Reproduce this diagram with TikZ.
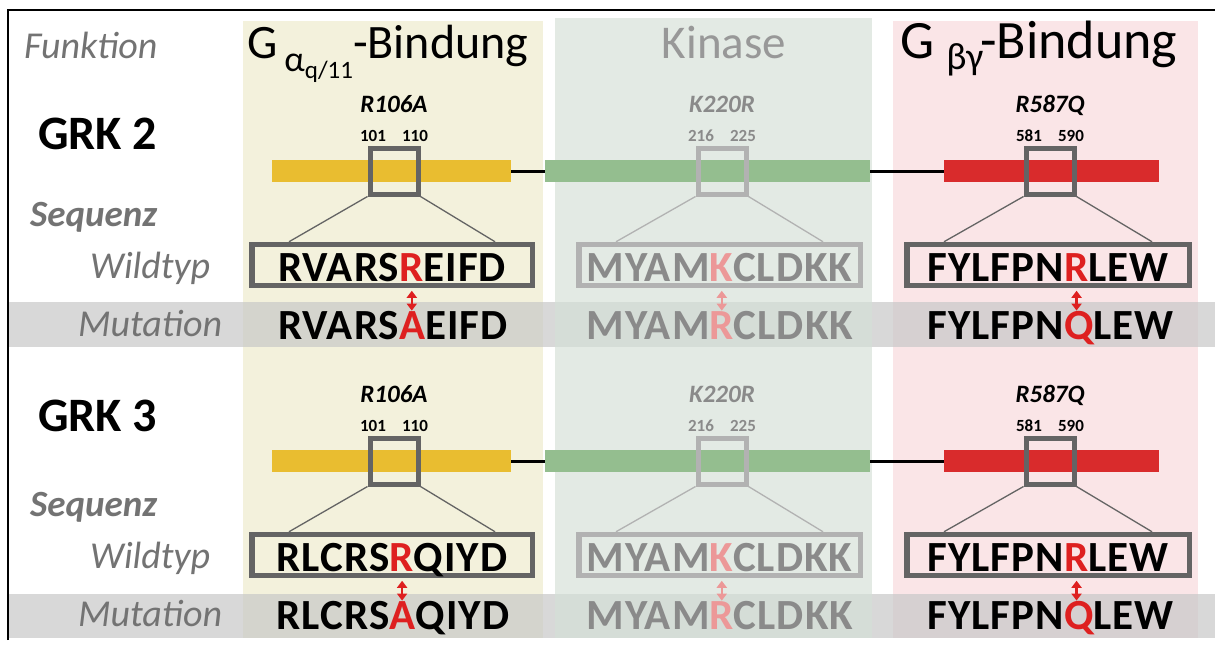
\documentclass[tikz,border=0pt]{standalone}
\usepackage{fontspec}
\setmainfont{Carlito}
\usetikzlibrary{arrows.meta,calc}
\definecolor{ypanel}{RGB}{243,241,220}
\definecolor{ppanel}{RGB}{250,229,231}
\definecolor{gpanel}{RGB}{212,224,215}
\definecolor{bandgray}{RGB}{200,200,200}
\definecolor{ybar}{RGB}{233,189,48}
\definecolor{gbar}{RGB}{148,190,143}
\definecolor{rbar}{RGB}{217,43,44}
\definecolor{labgray}{RGB}{115,115,115}
\definecolor{hired}{RGB}{222,32,32}
\definecolor{hipink}{RGB}{236,152,152}
\definecolor{boxdark}{RGB}{100,100,100}
\definecolor{boxlight}{RGB}{178,178,178}
\definecolor{fadetext}{RGB}{138,138,138}
\definecolor{fadehead}{RGB}{152,152,152}
\colorlet{fg}{black}
\colorlet{hl}{hired}
\colorlet{bx}{boxdark}

\tikzset{
  seq/.style={inner sep=0pt, text=fg, font=\fontsize{43}{43}\selectfont\bfseries\addfontfeature{LetterSpace=2.5}},
  lab/.style={inner sep=0pt, anchor=base west, text=labgray, font=\fontsize{38}{38}\selectfont\itshape},
  sqlab/.style={inner sep=0pt, anchor=base west, text=labgray, font=\fontsize{37}{37}\selectfont\bfseries\itshape},
  grk/.style={inner sep=0pt, anchor=base west, text=black, font=\fontsize{48}{48}\selectfont\bfseries},
  head/.style={inner sep=0pt, anchor=base, font=\fontsize{47}{47}\selectfont},
  mutlab/.style={inner sep=0pt, anchor=base, text=fg, font=\fontsize{25}{25}\selectfont\bfseries\itshape},
  num/.style={inner sep=0pt, anchor=base, text=fg, font=\fontsize{17}{17}\selectfont\bfseries},
  sqbox/.style={draw=bx, line width=5pt, minimum width=48pt, minimum height=46pt, inner sep=0pt},
  wtbox/.style={draw=bx, line width=5.5pt, minimum height=41pt, inner sep=0pt},
  bar/.style={inner sep=0pt, minimum height=22pt},
  link/.style={line width=3pt, draw=black},
  conn/.style={line width=1.3pt, draw=bx},
  mutarrow/.style={line width=2.2pt, draw=hl, {Triangle[length=7pt,width=10pt]}-{Triangle[length=7pt,width=10pt]}, shorten <=2.5pt, shorten >=0pt},
  band/.style={fill=bandgray, fill opacity=0.7},
}

% #1 id, #2 square x, #3 box left, #4 box right, #5 mutation label, #6 #7 numbers
\newcommand{\domain}[7]{%
  \node[mutlab] (#1ml) at (#2,112) {#5};
  \node[num] (#1na) at (#2-21,141) {#6};
  \node[num] (#1nb) at (#2+21,141) {#7};
  \node[sqbox] (#1sq) at (#2,171) {};
  \node[wtbox, minimum width=#4pt-#3pt-5.5pt] (#1box) at ({(#3+#4)/2},265) {};
  \draw[conn] (#1sq.south west) -- ($(#1box.north west)+(40,0)$);
  \draw[conn] (#1sq.south east) -- ($(#1box.north east)+(-40,0)$);
}
% #1 id, #2 x centre, #3 prefix, #4 wild-type letter, #5 mutant letter, #6 suffix
\newcommand{\seqpair}[6]{%
  \node[seq, anchor=base] (#1wt) at (#2,281) {#3\textcolor{hl}{#4}#6};
  \node[seq, anchor=base west] (#1pre) at (#1wt.base west) {\phantom{#3}};
  \node[seq, anchor=base west] (#1let) at (#1pre.base east) {\phantom{#4}};
  \node[seq, anchor=base west] (#1mut) at ($(#1wt.base west)+(0,58)$) {#3\textcolor{hl}{#5}#6};
  \draw[mutarrow] (#1let.center |- #1box.south) -- (#1let.center |- #1mut.north);
}

\begin{document}
\begin{tikzpicture}[x=1pt,y=-1pt]
\useasboundingbox (0,0) rectangle (1215,646);
\fill[white] (0,0) rectangle (1215,646);

% panels and bands
\fill[ypanel] (243,21) rectangle (543,638);
\fill[ppanel] (893,21) rectangle (1198,638);
\fill[band] (8,302) rectangle (1215,347);
\fill[band] (8,594) rectangle (1215,638);
\fill[gpanel, fill opacity=0.65] (555,18) rectangle (872,638);

% frame
\draw[line width=2pt] (8,640) -- (8,10) -- (1215,10);

% headers
\node[lab] (funk) at (24,58) {Funktion};
\node[head, anchor=base west, font=\fontsize{48}{48}\selectfont] (hy) at (247,58) {G\hspace{7pt}\raisebox{-13pt}{\fontsize{36}{36}\selectfont α\raisebox{-7pt}{\fontsize{25}{25}\selectfont q/11}}-Bindung};
\node[head, text=fadehead] (hg) at (724,58) {Kinase};
\node[head, anchor=base west, font=\fontsize{54}{54}\selectfont] (hr) at (900,58) {G\hspace{12pt}\raisebox{-11pt}{\fontsize{38}{38}\selectfont βγ}\hspace{-3pt}-Bindung};

% row labels
\node[grk] (grk2) at (38,149) {GRK 2};
\node[grk] (grk3) at (38,431) {GRK 3};
\node[sqlab] (seq1) at (30,226) {Sequenz};
\node[sqlab] (seq2) at (30,516) {Sequenz};
\node[lab] (wt1) at (90,278) {Wildtyp};
\node[lab] (wt2) at (90,568) {Wildtyp};
\node[lab] (mu1) at (78,336) {Mutation};
\node[lab] (mu2) at (78,626) {Mutation};

% ---------- GRK 2 ----------
\node[bar, fill=ybar, minimum width=239pt] (ybar1) at (391.5,171) {};
\node[bar, fill=gbar, minimum width=325pt] (gbar1) at (707.5,171) {};
\node[bar, fill=rbar, minimum width=215pt] (rbar1) at (1051.5,171) {};
\draw[link] (ybar1.east) -- (gbar1.west);
\draw[link] (gbar1.east) -- (rbar1.west);
\domain{y1}{394}{249}{535}{R106A}{101}{110}
\seqpair{y1}{392}{RVARS}{R}{A}{EIFD}
\begin{scope}
  \colorlet{fg}{fadetext}\colorlet{hl}{hipink}\colorlet{bx}{boxlight}
  \domain{g1}{722}{576}{863}{K220R}{216}{225}
  \seqpair{g1}{719.5}{MYAM}{K}{R}{CLDKK}
\end{scope}
\domain{r1}{1050}{904}{1192}{R587Q}{581}{590}
\seqpair{r1}{1048}{FYLFPN}{R}{Q}{LEW}

% ---------- GRK 3 ----------
\begin{scope}[yshift=-290pt]
\node[bar, fill=ybar, minimum width=239pt] (ybar2) at (391.5,171) {};
\node[bar, fill=gbar, minimum width=325pt] (gbar2) at (707.5,171) {};
\node[bar, fill=rbar, minimum width=215pt] (rbar2) at (1051.5,171) {};
\draw[link] (ybar2.east) -- (gbar2.west);
\draw[link] (gbar2.east) -- (rbar2.west);
\domain{y2}{394}{249}{535}{R106A}{101}{110}
\seqpair{y2}{392}{RLCRS}{R}{A}{QIYD}
\begin{scope}
  \colorlet{fg}{fadetext}\colorlet{hl}{hipink}\colorlet{bx}{boxlight}
  \domain{g2}{722}{576}{863}{K220R}{216}{225}
  \seqpair{g2}{719.5}{MYAM}{K}{R}{CLDKK}
\end{scope}
\domain{r2}{1050}{904}{1192}{R587Q}{581}{590}
\seqpair{r2}{1048}{FYLFPN}{R}{Q}{LEW}
\end{scope}
\end{tikzpicture}
\end{document}
